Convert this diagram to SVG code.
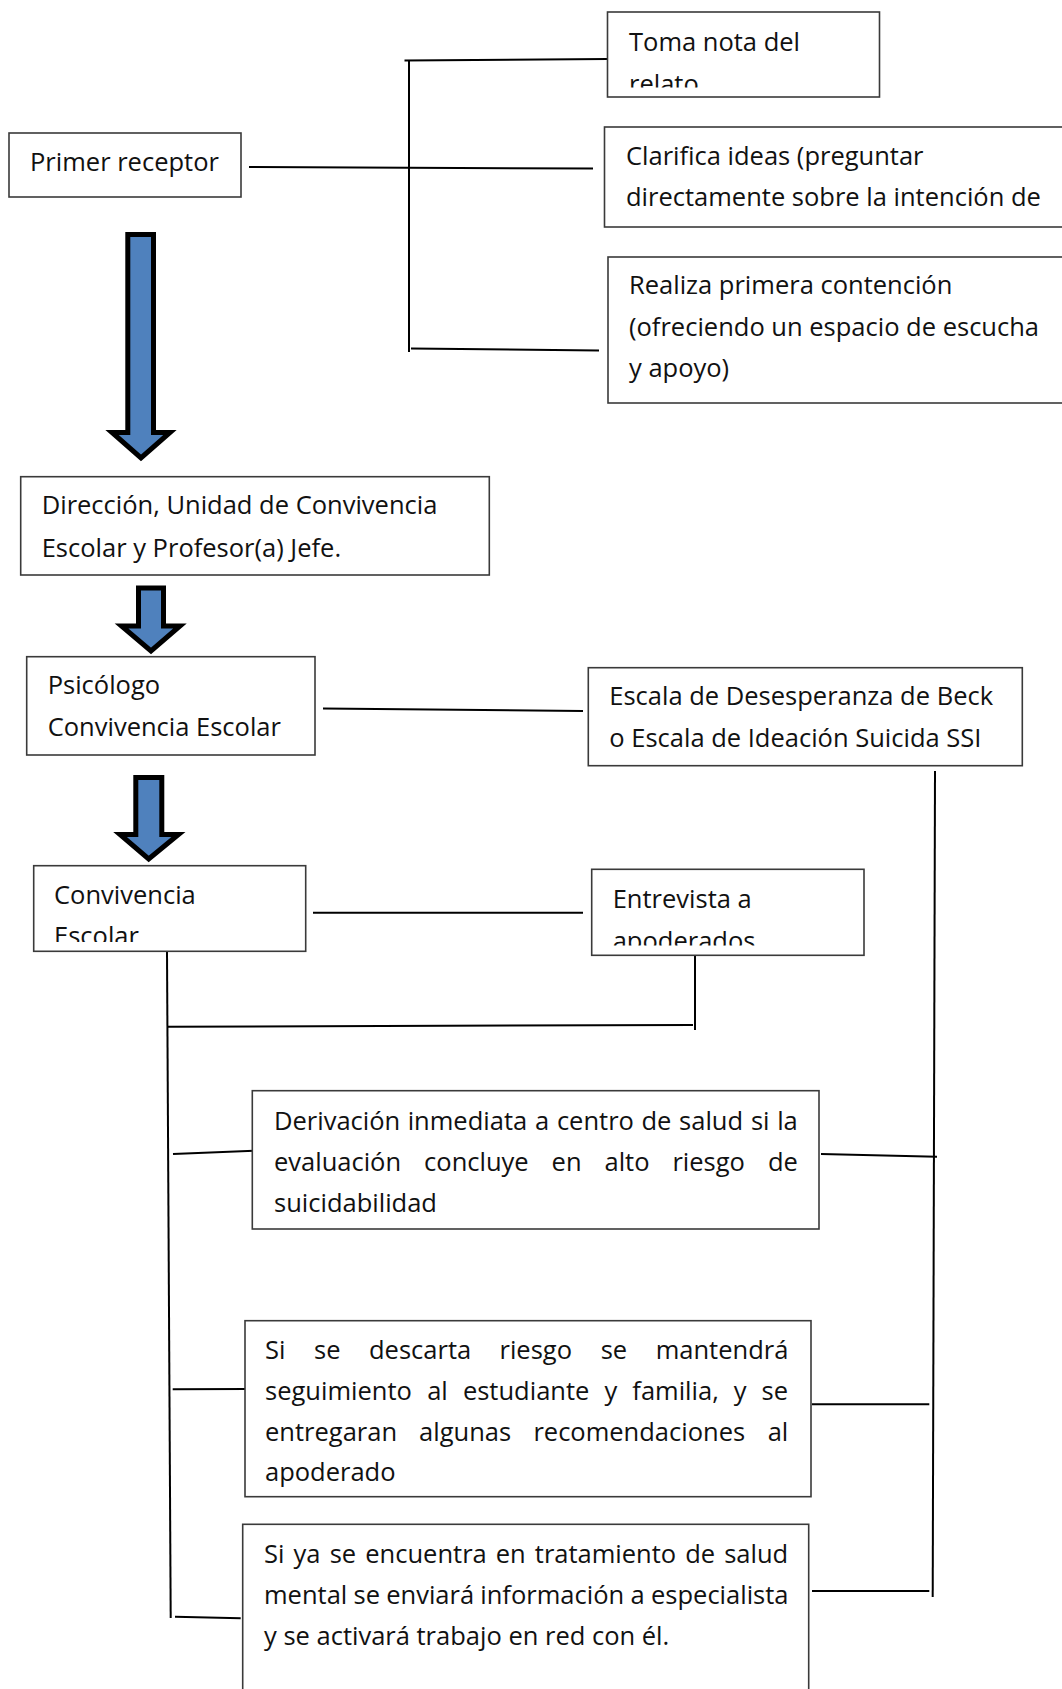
<svg xmlns="http://www.w3.org/2000/svg" width="1062" height="1689" viewBox="0 0 1062 1689">
<style>
  .bx { fill: #ffffff; stroke: #3a3a3a; stroke-width: 1.6; }
  .t { font-family: "Open Sans", "Noto Sans", sans-serif; font-size: 25.5px; fill: #111111; }
  .ln { stroke: #000000; stroke-width: 2; fill: none; stroke-linecap: butt; }
  .ar { fill: #4F81BD; stroke: #000000; stroke-width: 5; stroke-linejoin: miter; stroke-miterlimit: 10; }
</style>
<defs>
  <clipPath id="clipToma"><rect x="600" y="0" width="300" height="87.5"/></clipPath>
  <clipPath id="clipConv"><rect x="30" y="860" width="280" height="82"/></clipPath>
  <clipPath id="clipEntr"><rect x="590" y="860" width="280" height="85.5"/></clipPath>
</defs>
<rect x="0" y="0" width="1062" height="1689" fill="#ffffff"/>

<g id="connectors">
  <line class="ln" x1="404.5" y1="60.5" x2="607.5" y2="59"/>
  <line class="ln" x1="409" y1="60" x2="409" y2="352"/>
  <line class="ln" x1="249" y1="167" x2="593" y2="168.5"/>
  <line class="ln" x1="411" y1="348.5" x2="599" y2="350.5"/>
  <line class="ln" x1="323" y1="708.5" x2="583" y2="711"/>
  <line class="ln" x1="313" y1="912.7" x2="583" y2="912.7"/>
  <line class="ln" x1="167" y1="952" x2="170.7" y2="1618"/>
  <line class="ln" x1="168" y1="1026.7" x2="693" y2="1025"/>
  <line class="ln" x1="695" y1="953" x2="695" y2="1030"/>
  <line class="ln" x1="935" y1="771" x2="932.7" y2="1597"/>
  <line class="ln" x1="173" y1="1154" x2="254" y2="1150.7"/>
  <line class="ln" x1="821" y1="1154" x2="937" y2="1156.7"/>
  <line class="ln" x1="172.7" y1="1389.3" x2="246.7" y2="1389"/>
  <line class="ln" x1="812" y1="1404.3" x2="929.3" y2="1404.3"/>
  <line class="ln" x1="175" y1="1616.7" x2="240.7" y2="1618.3"/>
  <line class="ln" x1="812" y1="1591" x2="929.3" y2="1591"/>
</g>

<g id="arrows">
  <polygon class="ar" points="127.8,234.5 153.5,234.5 153.5,432.5 170,432.5 141,458 112,432.5 127.8,432.5"/>
  <polygon class="ar" points="138.5,588 163.5,588 163.5,626 180,626 151,651 121.5,626 138.5,626"/>
  <polygon class="ar" points="135.8,777.5 161.8,777.5 161.8,834.5 178.5,834.5 148.7,859 120,834.5 135.8,834.5"/>
</g>

<g id="node-primer-receptor">
  <rect class="bx" x="9" y="133" width="232" height="64"/>
  <text class="t" x="30" y="170.7">Primer receptor</text>
</g>

<g id="node-toma-nota">
  <rect class="bx" x="607.5" y="12" width="272" height="85"/>
  <g clip-path="url(#clipToma)">
    <text class="t" x="629" y="50.7">Toma nota del</text>
    <text class="t" x="629" y="92.6">relato</text>
  </g>
</g>

<g id="node-clarifica">
  <rect class="bx" x="604.5" y="127" width="470" height="100"/>
  <text class="t" x="626" y="165">Clarifica ideas (preguntar</text>
  <text class="t" x="626" y="206">directamente sobre la intención de</text>
</g>

<g id="node-realiza">
  <rect class="bx" x="608" y="257" width="470" height="146"/>
  <text class="t" x="629" y="294">Realiza primera contención</text>
  <text class="t" x="629" y="336">(ofreciendo un espacio de escucha</text>
  <text class="t" x="629" y="377">y apoyo)</text>
</g>

<g id="node-direccion">
  <rect class="bx" x="20.7" y="476.7" width="468.6" height="98.3"/>
  <text class="t" x="41.7" y="514.3">Dirección, Unidad de Convivencia</text>
  <text class="t" x="41.7" y="556.7">Escolar y Profesor(a) Jefe.</text>
</g>

<g id="node-psicologo">
  <rect class="bx" x="26.7" y="656.7" width="288.3" height="98.3"/>
  <text class="t" x="47.7" y="694.3">Psicólogo</text>
  <text class="t" x="47.7" y="736">Convivencia Escolar</text>
</g>

<g id="node-escala">
  <rect class="bx" x="588.3" y="667.7" width="434" height="98"/>
  <text class="t" x="609.3" y="705">Escala de Desesperanza de Beck</text>
  <text class="t" x="609.3" y="746.7">o Escala de Ideación Suicida SSI</text>
</g>

<g id="node-convivencia">
  <rect class="bx" x="33.7" y="865.7" width="272" height="85.6"/>
  <g clip-path="url(#clipConv)">
    <text class="t" x="54" y="904">Convivencia</text>
    <text class="t" x="54" y="945">Escolar</text>
  </g>
</g>

<g id="node-entrevista">
  <rect class="bx" x="591.7" y="869.3" width="272.3" height="86"/>
  <g clip-path="url(#clipEntr)">
    <text class="t" x="612.7" y="907.7">Entrevista a</text>
    <text class="t" x="612.7" y="949.6">apoderados</text>
  </g>
</g>

<g id="node-derivacion">
  <rect class="bx" x="252.3" y="1090.7" width="566.7" height="138.3"/>
  <text class="t" y="1130"><tspan x="274">Derivación</tspan><tspan x="407.7">inmediata</tspan><tspan x="535">a</tspan><tspan x="556.9">centro</tspan><tspan x="641.5">de</tspan><tspan x="679.1">salud</tspan><tspan x="750.9">si</tspan><tspan x="777.2">la</tspan></text>
  <text class="t" y="1171"><tspan x="274">evaluación</tspan><tspan x="424.1">concluye</tspan><tspan x="551.6">en</tspan><tspan x="604.5">alto</tspan><tspan x="672.4">riesgo</tspan><tspan x="768">de</tspan></text>
  <text class="t" x="274" y="1212">suicidabilidad</text>
</g>

<g id="node-descarta">
  <rect class="bx" x="245" y="1320.7" width="566" height="176"/>
  <text class="t" y="1359"><tspan x="265">Si</tspan><tspan x="314">se</tspan><tspan x="369">descarta</tspan><tspan x="499.5">riesgo</tspan><tspan x="600.7">se</tspan><tspan x="655.7">mantendrá</tspan></text>
  <text class="t" y="1400"><tspan x="265">seguimiento</tspan><tspan x="427.2">al</tspan><tspan x="462.9">estudiante</tspan><tspan x="604.4">y</tspan><tspan x="632.3">familia,</tspan><tspan x="733.7">y</tspan><tspan x="761.6">se</tspan></text>
  <text class="t" y="1441"><tspan x="265">entregaran</tspan><tspan x="419.1">algunas</tspan><tspan x="533.4">recomendaciones</tspan><tspan x="767.7">al</tspan></text>
  <text class="t" x="265" y="1481">apoderado</text>
</g>

<g id="node-tratamiento">
  <rect class="bx" x="242.7" y="1524.3" width="566" height="200"/>
  <text class="t" y="1563"><tspan x="264">Si</tspan><tspan x="293.6">ya</tspan><tspan x="329.7">se</tspan><tspan x="365.3">encuentra</tspan><tspan x="495.7">en</tspan><tspan x="534.8">tratamiento</tspan><tspan x="685.2">de</tspan><tspan x="724.2">salud</tspan></text>
  <text class="t" y="1604"><tspan x="264">mental</tspan><tspan x="353.5">se</tspan><tspan x="386.2">enviará</tspan><tspan x="480.3">información</tspan><tspan x="630.6">a</tspan><tspan x="651">especialista</tspan></text>
  <text class="t" x="264" y="1645">y se activará trabajo en red con él.</text>
</g>
</svg>
